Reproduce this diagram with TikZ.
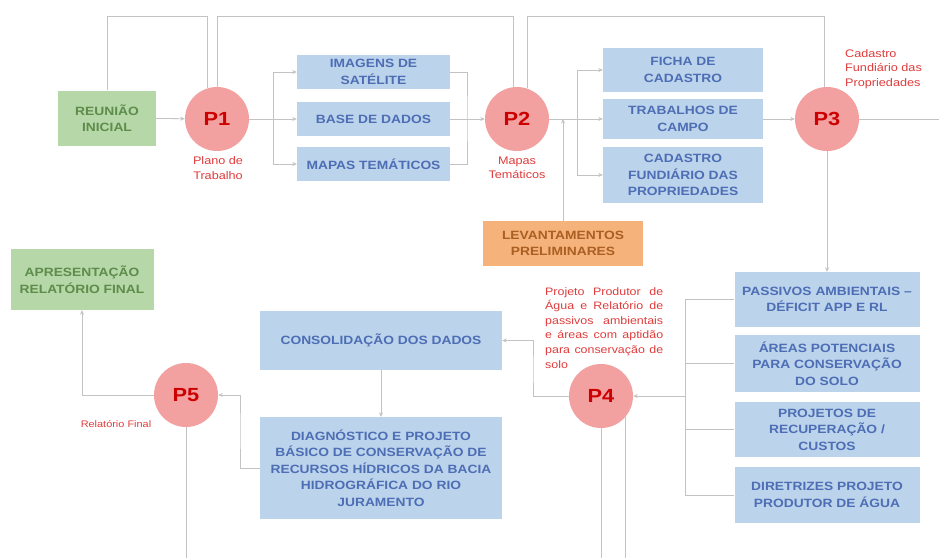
\documentclass[tikz,border=0pt]{standalone}
\usepackage{fontspec}
\setmainfont{Liberation Sans}[FakeStretch=1.15]
\usetikzlibrary{arrows.meta}
\definecolor{lncol}{RGB}{195,195,195}
\definecolor{bfill}{RGB}{188,211,236}
\definecolor{btext}{RGB}{77,110,180}
\definecolor{gfill}{RGB}{182,215,168}
\definecolor{gtext}{RGB}{93,140,75}
\definecolor{ofill}{RGB}{246,178,123}
\definecolor{otext}{RGB}{170,95,35}
\definecolor{cfill}{RGB}{243,160,160}
\definecolor{ctext}{RGB}{204,0,0}
\definecolor{lblcol}{RGB}{224,60,60}
\begin{document}
\begin{tikzpicture}[x=1pt,y=-1pt,
  line/.style={draw=lncol,line width=0.8pt},
  conn/.style={line,-{Stealth[length=4.5pt,width=4pt]}},
  box/.style={rectangle,inner sep=0pt,align=center,font=\fontsize{12}{16.5}\selectfont\bfseries},
  bluebox/.style={box,fill=bfill,text=btext},
  greenbox/.style={box,fill=gfill,text=gtext},
  orangebox/.style={box,fill=ofill,text=otext},
  pcirc/.style={circle,fill=cfill,text=ctext,minimum size=64pt,inner sep=0pt,font=\fontsize{19}{19}\selectfont\bfseries},
  lbl/.style={text=lblcol,font=\fontsize{11}{14.5}\selectfont,align=center,inner sep=0pt}
]
\fill[white] (0,0) rectangle (939,558);
\useasboundingbox (0,0) rectangle (939,558);

% nodes
\node[greenbox,minimum width=98pt,minimum height=55pt] (reu) at (107,118) {REUNIÃO\\INICIAL};
\node[pcirc] (P1) at (217,119) {P1};
\node[lbl] (l1) at (218,168) {Plano de\\Trabalho};
\node[bluebox,minimum width=153pt,minimum height=34pt] (img) at (373.5,72) {IMAGENS DE\\SATÉLITE};
\node[bluebox,minimum width=153pt,minimum height=34pt] (base) at (373.5,119) {BASE DE DADOS};
\node[bluebox,minimum width=153pt,minimum height=34pt] (mapas) at (373.5,164) {MAPAS TEMÁTICOS};
\node[pcirc] (P2) at (517,119) {P2};
\node[lbl] (l2) at (517,168) {Mapas\\Temáticos};
\node[bluebox,minimum width=160pt,minimum height=44pt] (ficha) at (683,70) {FICHA DE\\CADASTRO};
\node[bluebox,minimum width=160pt,minimum height=40pt] (trab) at (683,119) {TRABALHOS DE\\CAMPO};
\node[bluebox,minimum width=160pt,minimum height=56pt] (cad) at (683,175) {CADASTRO\\FUNDIÁRIO DAS\\PROPRIEDADES};
\node[orangebox,minimum width=160pt,minimum height=45pt] (lev) at (563,243.5) {LEVANTAMENTOS\\PRELIMINARES};
\node[pcirc] (P3) at (827,119) {P3};
\node[lbl,align=left,anchor=north west] (l3) at (845,49) {Cadastro\\Fundiário das\\Propriedades};
\node[bluebox,minimum width=185pt,minimum height=55pt] (pas) at (827,299.5) {PASSIVOS AMBIENTAIS –\\DÉFICIT APP E RL};
\node[bluebox,minimum width=185pt,minimum height=57pt] (areas) at (827,363.5) {ÁREAS POTENCIAIS\\PARA CONSERVAÇÃO\\DO SOLO};
\node[bluebox,minimum width=185pt,minimum height=55pt] (proj) at (827,429.5) {PROJETOS DE\\RECUPERAÇÃO /\\CUSTOS};
\node[bluebox,minimum width=185pt,minimum height=56pt] (dir) at (827,495) {DIRETRIZES PROJETO\\PRODUTOR DE ÁGUA};
\node[pcirc] (P4) at (601,396) {P4};
\node[lbl,align=justify,text width=118pt,anchor=north west,font=\fontsize{10.8}{14.6}\selectfont] (l4) at (545,287) {Projeto Produtor de\linebreak Água e Relatório de\linebreak passivos ambientais\linebreak e áreas com aptidão\linebreak para conservação de\linebreak solo};
\node[bluebox,minimum width=242pt,minimum height=59pt] (cons) at (381,340.5) {CONSOLIDAÇÃO DOS DADOS};
\node[bluebox,minimum width=242pt,minimum height=102pt] (diag) at (381,468) {DIAGNÓSTICO E PROJETO\\BÁSICO DE CONSERVAÇÃO DE\\RECURSOS HÍDRICOS DA BACIA\\HIDROGRÁFICA DO RIO\\JURAMENTO};
\node[pcirc] (P5) at (186,395) {P5};
\node[lbl,font=\fontsize{9.5}{11}\selectfont] (l5) at (116,424) {Relatório Final};
\node[greenbox,minimum width=143pt,minimum height=61pt] (apr) at (82,279.5) {APRESENTAÇÃO\\RELATÓRIO FINAL};

% helper coordinates
\coordinate (top) at (0,16);
\coordinate (bot) at (0,558);
\coordinate (j1) at (273,119);
\coordinate (j2) at (467,119);
\coordinate (j3) at (577,119);
\coordinate (j4) at (563,119);
\coordinate (e3) at (939,119);
\coordinate (j5) at (685,396);
\coordinate (j6) at (533,370);
\coordinate (j7) at (240,430);

% connectors
\draw[conn] (reu) -- (P1);
\draw[line] (reu.north) |- (P1.108 |- top) -- (P1.108);
\draw[line] (P1.north) |- (P2.96 |- top) -- (P2.96);
\draw[line] (P2.72) |- (P3.95 |- top) -- (P3.95);

\draw[conn] (P1) -- (base);
\draw[conn] (j1) |- (img);
\draw[conn] (j1) |- (mapas);
\draw[line] (img) -| (j2) |- (mapas);
\draw[conn] (base) -- (P2);

\draw[conn] (P2) -- (trab);
\draw[conn] (j3) |- (ficha);
\draw[conn] (j3) |- (cad);
\draw[conn] (lev) -- (j4);
\draw[conn] (trab) -- (P3);
\draw[line] (P3) -- (e3);
\draw[conn] (P3) -- (pas);

\draw[line] (pas) -| (j5) |- (dir);
\draw[line] (areas) -| (j5);
\draw[line] (proj) -| (j5);
\draw[conn] (j5) -- (P4);
\draw[conn] (P4) -| (j6) |- (cons);
\draw[conn] (cons) -- (diag);
\draw[conn] (diag) -| (j7) |- (P5);
\draw[conn] (P5) -| (apr);

\draw[line] (P5) -- (P5 |- bot);
\draw[line] (P4) -- (P4 |- bot);
\draw[line] (P4.-41) -- (P4.-41 |- bot);
\end{tikzpicture}
\end{document}
